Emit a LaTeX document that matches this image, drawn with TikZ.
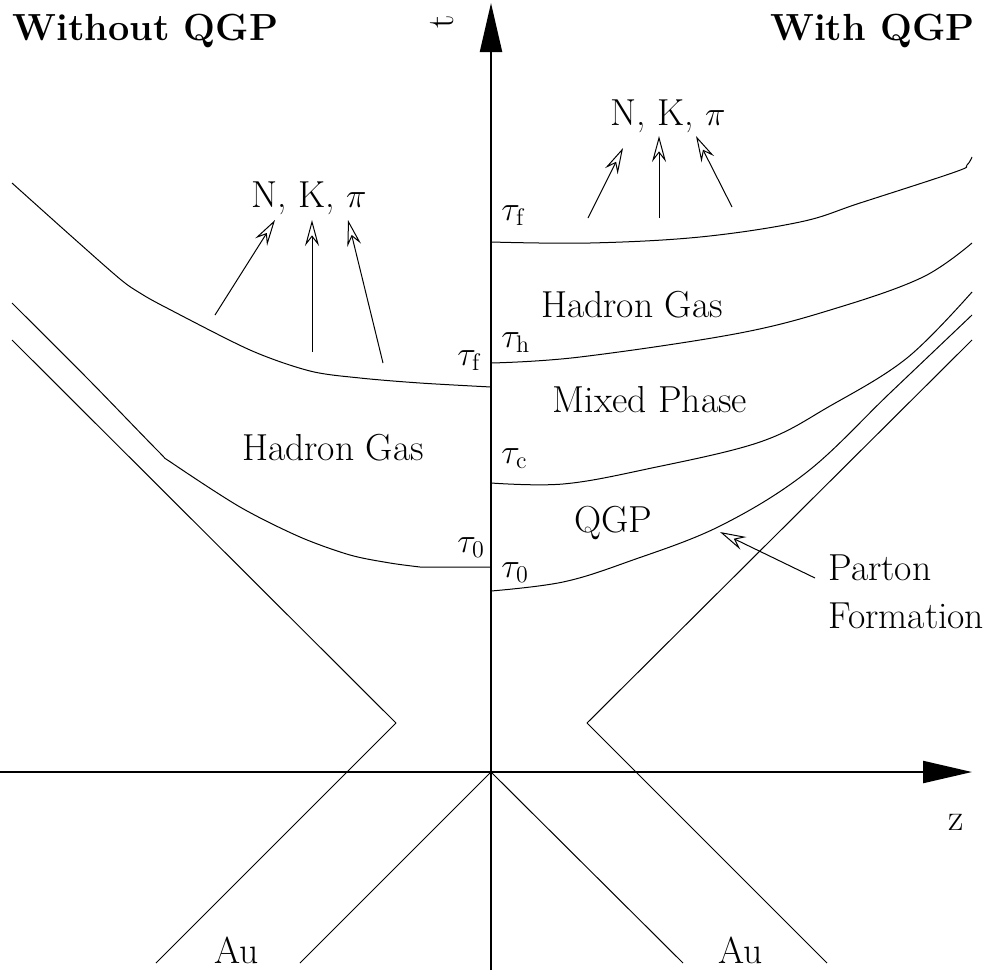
\documentclass[tikz,border=0pt]{standalone}
\usetikzlibrary{arrows.meta}
\begin{document}
\begin{tikzpicture}[x=0.5pt,y=-0.5pt,
  axisline/.style={line width=1.1pt,-{Triangle[length=24.5pt,width=11pt]}},
  wline/.style={line width=0.5pt,line join=round},
  emit/.style={line width=0.5pt,-{Stealth[open,length=13pt,width=7pt,inset=4.5pt]}},
  lbl/.style={inner sep=0pt,font=\fontsize{18.8}{22}\selectfont},
  ttl/.style={inner sep=0pt,font=\fontsize{18.9}{22}\selectfont\bfseries}]
\useasboundingbox (0,0) rectangle (999,970);
% axes
\coordinate (tbot) at (491,970);
\coordinate (ttop) at (491,3);
\coordinate (zl) at (0,772);
\coordinate (zr) at (972,772);
\coordinate (O) at (491,772);
\draw[axisline] (tbot) -- (ttop);
\draw[axisline] (zl) -- (zr);
\node[lbl,rotate=90] (tl) at (442,22) {t};
\node[lbl,anchor=base] (zlab) at (956,830) {z};
% titles
\node[ttl,anchor=base west] (wo) at (12,40) {Without QGP};
\node[ttl,anchor=base east] (wi) at (975,40) {With QGP};
% light-cone lines
\coordinate (vl) at (396,723);
\coordinate (vr) at (587,723);
\draw[wline] (12,340) -- (vl) -- (156,963);
\draw[wline] (972,340) -- (vr) -- (827,963);
\draw[wline] (300,963) -- (O) -- (683,963);
% left curves
\draw[wline] plot[smooth,tension=0.5] coordinates {(12,183) (70,235) (120,279) (140,293) (165,307) (250,350) (310,371) (360,378) (420,383) (491,387)};
\draw[wline] plot[smooth,tension=0.5] coordinates {(12,303) (90,381) (158,451) (172,463) (240,507) (300,537) (350,555) (390,563) (420,567)} -- (491,567);
% right curves
\draw[wline] plot[smooth,tension=0.6] coordinates {(491,242) (590,243) (700,237) (800,222) (860,203) (955,172) (967,165) (972,157)};
\draw[wline] plot[smooth,tension=0.6] coordinates {(491,363) (580,357) (740,333) (840,307) (923,277) (972,243)};
\draw[wline] plot[smooth,tension=0.6] coordinates {(491,483) (563,484) (647,469) (760,442) (830,406) (907,358) (972,292)};
\draw[wline] plot[smooth,tension=0.6] coordinates {(491,591) (563,582) (630,561) (720,526) (807,472) (890,393) (972,315)};
% region labels
\node[lbl,anchor=base] (hgl) at (333,460) {Hadron Gas};
\node[lbl,anchor=base] (hgr) at (632,317) {Hadron Gas};
\node[lbl,anchor=base] (mix) at (650,412) {Mixed Phase};
\node[lbl,anchor=base] (qgp) at (613,532) {QGP};
\node[lbl,anchor=base west] (par) at (828,580) {Parton};
\node[lbl,anchor=base west] (form) at (828,628) {Formation};
\node[lbl,anchor=base] (aul) at (237,963) {Au};
\node[lbl,anchor=base] (aur) at (741,963) {Au};
% tau labels
\node[lbl,anchor=base west] (tfr) at (501,220) {$\tau_{\mathrm f}$};
\node[lbl,anchor=base west] (thr) at (501,347) {$\tau_{\mathrm h}$};
\node[lbl,anchor=base west] (tcr) at (501,463) {$\tau_{\mathrm c}$};
\node[lbl,anchor=base west] (t0r) at (501,577) {$\tau_0$};
\node[lbl,anchor=base west] (tfl) at (457,365) {$\tau_{\mathrm f}$};
\node[lbl,anchor=base west] (t0l) at (457,552) {$\tau_0$};
% emitted particles
\node[lbl,anchor=base] (nkpl) at (309,207) {N, K, $\pi$};
\node[lbl,anchor=base] (nkpr) at (668,125) {N, K, $\pi$};
\coordinate (la1) at (215,315); \coordinate (la1e) at (275,220);
\coordinate (la2) at (312,352); \coordinate (la2e) at (312,220);
\coordinate (la3) at (383,363); \coordinate (la3e) at (348,220);
\coordinate (ra1) at (588,218); \coordinate (ra1e) at (623,148);
\coordinate (ra2) at (659,218); \coordinate (ra2e) at (659,136);
\coordinate (ra3) at (732,207); \coordinate (ra3e) at (696,136);
\draw[emit] (la1) -- (la1e);
\draw[emit] (la2) -- (la2e);
\draw[emit] (la3) -- (la3e);
\draw[emit] (ra1) -- (ra1e);
\draw[emit] (ra2) -- (ra2e);
\draw[emit] (ra3) -- (ra3e);
\coordinate (pa) at (815,578); \coordinate (pae) at (720,532);
\draw[emit] (pa) -- (pae);
\end{tikzpicture}
\end{document}
